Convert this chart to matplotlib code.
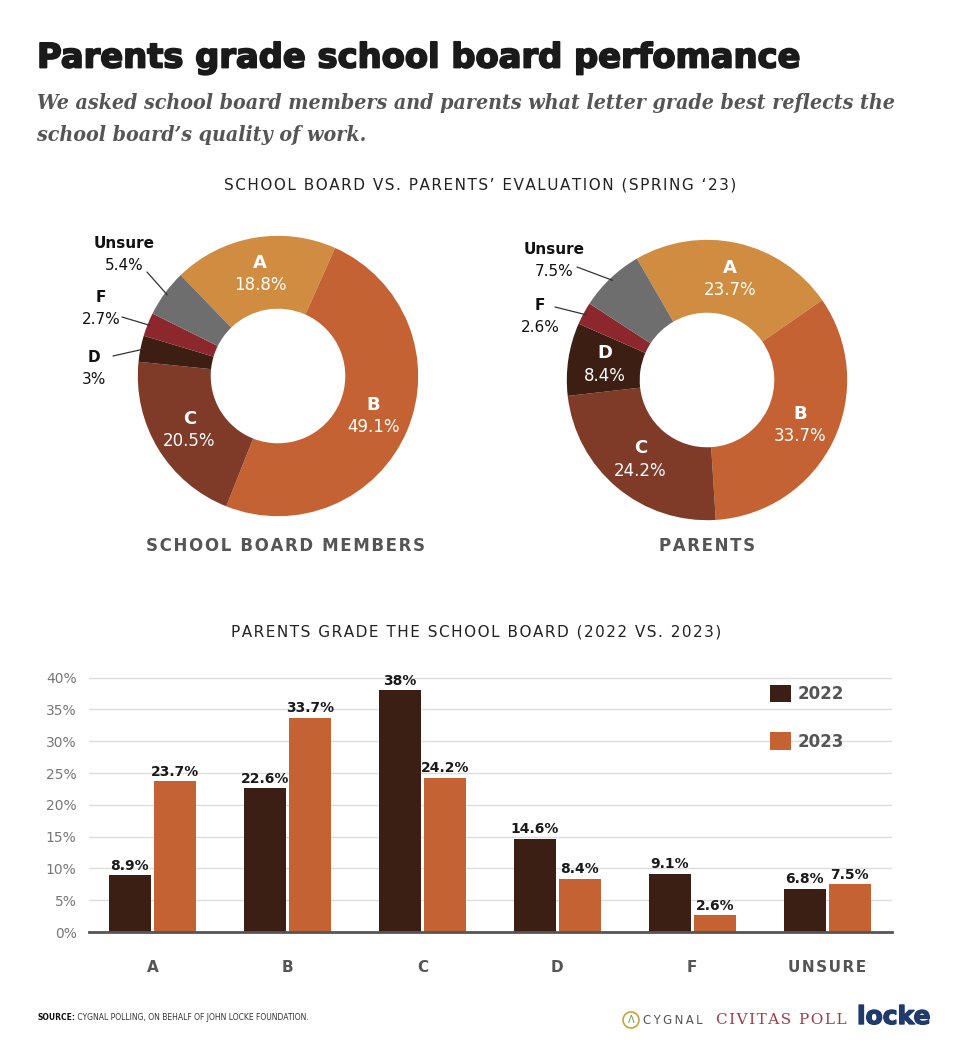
import matplotlib
matplotlib.use('Agg')
import matplotlib.pyplot as plt
import matplotlib.patheffects as pe
import numpy as np
from matplotlib.patches import Circle

# данные
grades = ['A', 'B', 'C', 'D', 'F', 'Unsure']
board_pct = [18.8, 49.1, 20.5, 3.0, 2.7, 5.4]
board_txt = ['18.8%', '49.1%', '20.5%', '3%', '2.7%', '5.4%']
parents_pct = [23.7, 33.7, 24.2, 8.4, 2.6, 7.5]
parents_txt = ['23.7%', '33.7%', '24.2%', '8.4%', '2.6%', '7.5%']

bar_cats = ['A', 'B', 'C', 'D', 'F', 'UNSURE']
y2022 = [8.9, 22.6, 38.0, 14.6, 9.1, 6.8]
y2023 = [23.7, 33.7, 24.2, 8.4, 2.6, 7.5]
lab2022 = ['8.9%', '22.6%', '38%', '14.6%', '9.1%', '6.8%']
lab2023 = ['23.7%', '33.7%', '24.2%', '8.4%', '2.6%', '7.5%']
yticks = [0, 5, 10, 15, 20, 25, 30, 35, 40]

pie_colors = ['#D08C40', '#C46234', '#7F3A28', '#3C1E12', '#8C282D', '#6E6E6E']
c2022 = '#3C1F14'
c2023 = '#C46233'

W, H = 972, 1044
fig = plt.figure(figsize=(W / 100, H / 100), dpi=100)


def fx(x):
    return x / W


def fy(y):
    return 1 - y / H


def spaced(s, sep='\u200a'):
    return sep.join(s)


# заголовки
fig.text(fx(37), fy(58), 'Parents grade school board perfomance', fontsize=24.3,
         fontweight='heavy', color='#1a1a1a', va='center', ha='left',
         path_effects=[pe.withStroke(linewidth=1.3, foreground='#1a1a1a')])
sub_kw = dict(fontsize=15.3, family='DejaVu Serif', fontstretch='condensed', style='italic',
              fontweight='bold', color='#555555', va='center')
fig.text(fx(37), fy(103), 'We asked school board members and parents what letter grade best reflects the',
         **sub_kw)
fig.text(fx(37), fy(135), 'school board\u2019s quality of work.', **sub_kw)
fig.text(fx(480), fy(185), spaced('SCHOOL BOARD VS. PARENTS\u2019 EVALUATION (SPRING \u201823)'),
         fontsize=11, color='#222222', ha='center', va='center')
fig.text(fx(476), fy(632), spaced('PARENTS GRADE THE SCHOOL BOARD (2022 VS. 2023)'),
         fontsize=11, color='#222222', ha='center', va='center')
fig.text(fx(286), fy(546), spaced('SCHOOL BOARD MEMBERS'), fontsize=12, fontweight='bold',
         color='#555555', ha='center', va='center')
fig.text(fx(707), fy(546), spaced('PARENTS'), fontsize=12, fontweight='bold',
         color='#555555', ha='center', va='center')


def donut(cx, cy, vals, txt, start, inside, outside):
    ax = fig.add_axes([fx(cx - 150), fy(cy + 150), 300 / W, 300 / H])
    wedges, _ = ax.pie(vals, colors=pie_colors, startangle=start, counterclock=False,
                       wedgeprops=dict(width=0.52, linewidth=0))
    ax.set_xlim(-1.07, 1.07)
    ax.set_ylim(-1.07, 1.07)
    ax.axis('off')
    for i in inside:
        w = wedges[i]
        a = np.deg2rad((w.theta1 + w.theta2) / 2)
        x, y = 0.74 * np.cos(a), 0.74 * np.sin(a)
        ax.annotate(grades[i], (x, y), xytext=(0, 8), textcoords='offset points',
                    ha='center', va='center', color='white', fontsize=13, fontweight='bold')
        ax.annotate(txt[i], (x, y), xytext=(0, -8), textcoords='offset points',
                    ha='center', va='center', color='white', fontsize=12)
    for i, (tx, ty, lx, ly) in outside.items():
        w = wedges[i]
        a = np.deg2rad((w.theta1 + w.theta2) / 2)
        x, y = 0.98 * np.cos(a), 0.98 * np.sin(a)
        fig.text(fx(tx), fy(ty - 11), grades[i], fontsize=11, fontweight='bold',
                 color='#111111', ha='center', va='center')
        fig.text(fx(tx), fy(ty + 11), txt[i], fontsize=11, color='#111111',
                 ha='center', va='center')
        ax.annotate('', xy=(x, y), xycoords='data', xytext=(lx, H - ly),
                    textcoords='figure pixels',
                    arrowprops=dict(arrowstyle='-', color='#333333', lw=0.9,
                                    shrinkA=0, shrinkB=0))
    return ax


donut(278, 376, board_pct, board_txt, 134, [0, 1, 2],
      {5: (124, 255, 147, 272), 4: (101, 308, 122, 317), 3: (94, 368, 113, 356)})
donut(707, 380, parents_pct, parents_txt, 120, [0, 1, 2, 3],
      {5: (554, 261, 577, 267), 4: (540, 317, 555, 307)})

# столбчатая диаграмма
ax = fig.add_axes([fx(89), fy(932), 803 / W, 255 / H])
x = np.arange(len(bar_cats))
b1 = ax.bar(x - 0.167, y2022, 0.31, color=c2022, label='2022')
b2 = ax.bar(x + 0.167, y2023, 0.31, color=c2023, label='2023')
ax.bar_label(b1, labels=lab2022, padding=2, fontsize=10, fontweight='bold', color='#1a1a1a')
ax.bar_label(b2, labels=lab2023, padding=2, fontsize=10, fontweight='bold', color='#1a1a1a')
ax.set_xlim(-0.47, 5.48)
ax.set_ylim(0, 40.1)
ax.set_yticks(yticks)
ax.set_yticklabels([f'{t}%' for t in yticks])
ax.set_xticks(x)
ax.set_xticklabels([spaced(c) for c in bar_cats], fontweight='bold')
ax.yaxis.grid(True, color='#dddddd', lw=1)
ax.set_axisbelow(True)
for s in ['top', 'right', 'left']:
    ax.spines[s].set_visible(False)
ax.spines['bottom'].set_color('#555555')
ax.spines['bottom'].set_linewidth(2)
ax.tick_params(axis='y', length=0, pad=9, labelcolor='#777777', labelsize=10)
ax.tick_params(axis='x', length=0, pad=20, labelcolor='#555555', labelsize=11)
ax.legend(loc='upper left', bbox_to_anchor=(0.848, 0.97), frameon=False, borderpad=0,
          borderaxespad=0, handlelength=1.25, handleheight=1.25, handletextpad=0.4,
          labelspacing=1.75, prop={'weight': 'bold', 'size': 12}, labelcolor='#555555')

# подвал
ov = fig.add_axes([0, 0, 1, 1])
ov.axis('off')
ov.set_xlim(0, W)
ov.set_ylim(H, 0)
t1 = ov.text(37, 1018, 'SOURCE:', fontsize=5.5, fontweight='bold', color='#111111', va='center')
ov.annotate(' CYGNAL POLLING, ON BEHALF OF JOHN LOCKE FOUNDATION.', xy=(1, 0.5), xycoords=t1,
            fontsize=5.5, color='#333333', va='center')
ov.add_patch(Circle((631, 1020), 8, fill=False, ec='#C9A23A', lw=1.2))
ov.text(631, 1020, '\u039b', fontsize=7, color='#6a9a50', ha='center', va='center')
ov.text(643, 1021, spaced('CYGNAL', '\u2009'), fontsize=8.5, color='#555555', va='center')
ov.text(716, 1020, spaced('CIVITAS POLL'), fontsize=11, family='DejaVu Serif',
        color='#9E3B46', va='center')
ov.text(857, 1017, 'locke', fontsize=18, fontweight='bold', color='#1F3A6B', va='center',
        path_effects=[pe.withStroke(linewidth=1, foreground='#1F3A6B')])

fig.savefig('out.png', dpi=100)
